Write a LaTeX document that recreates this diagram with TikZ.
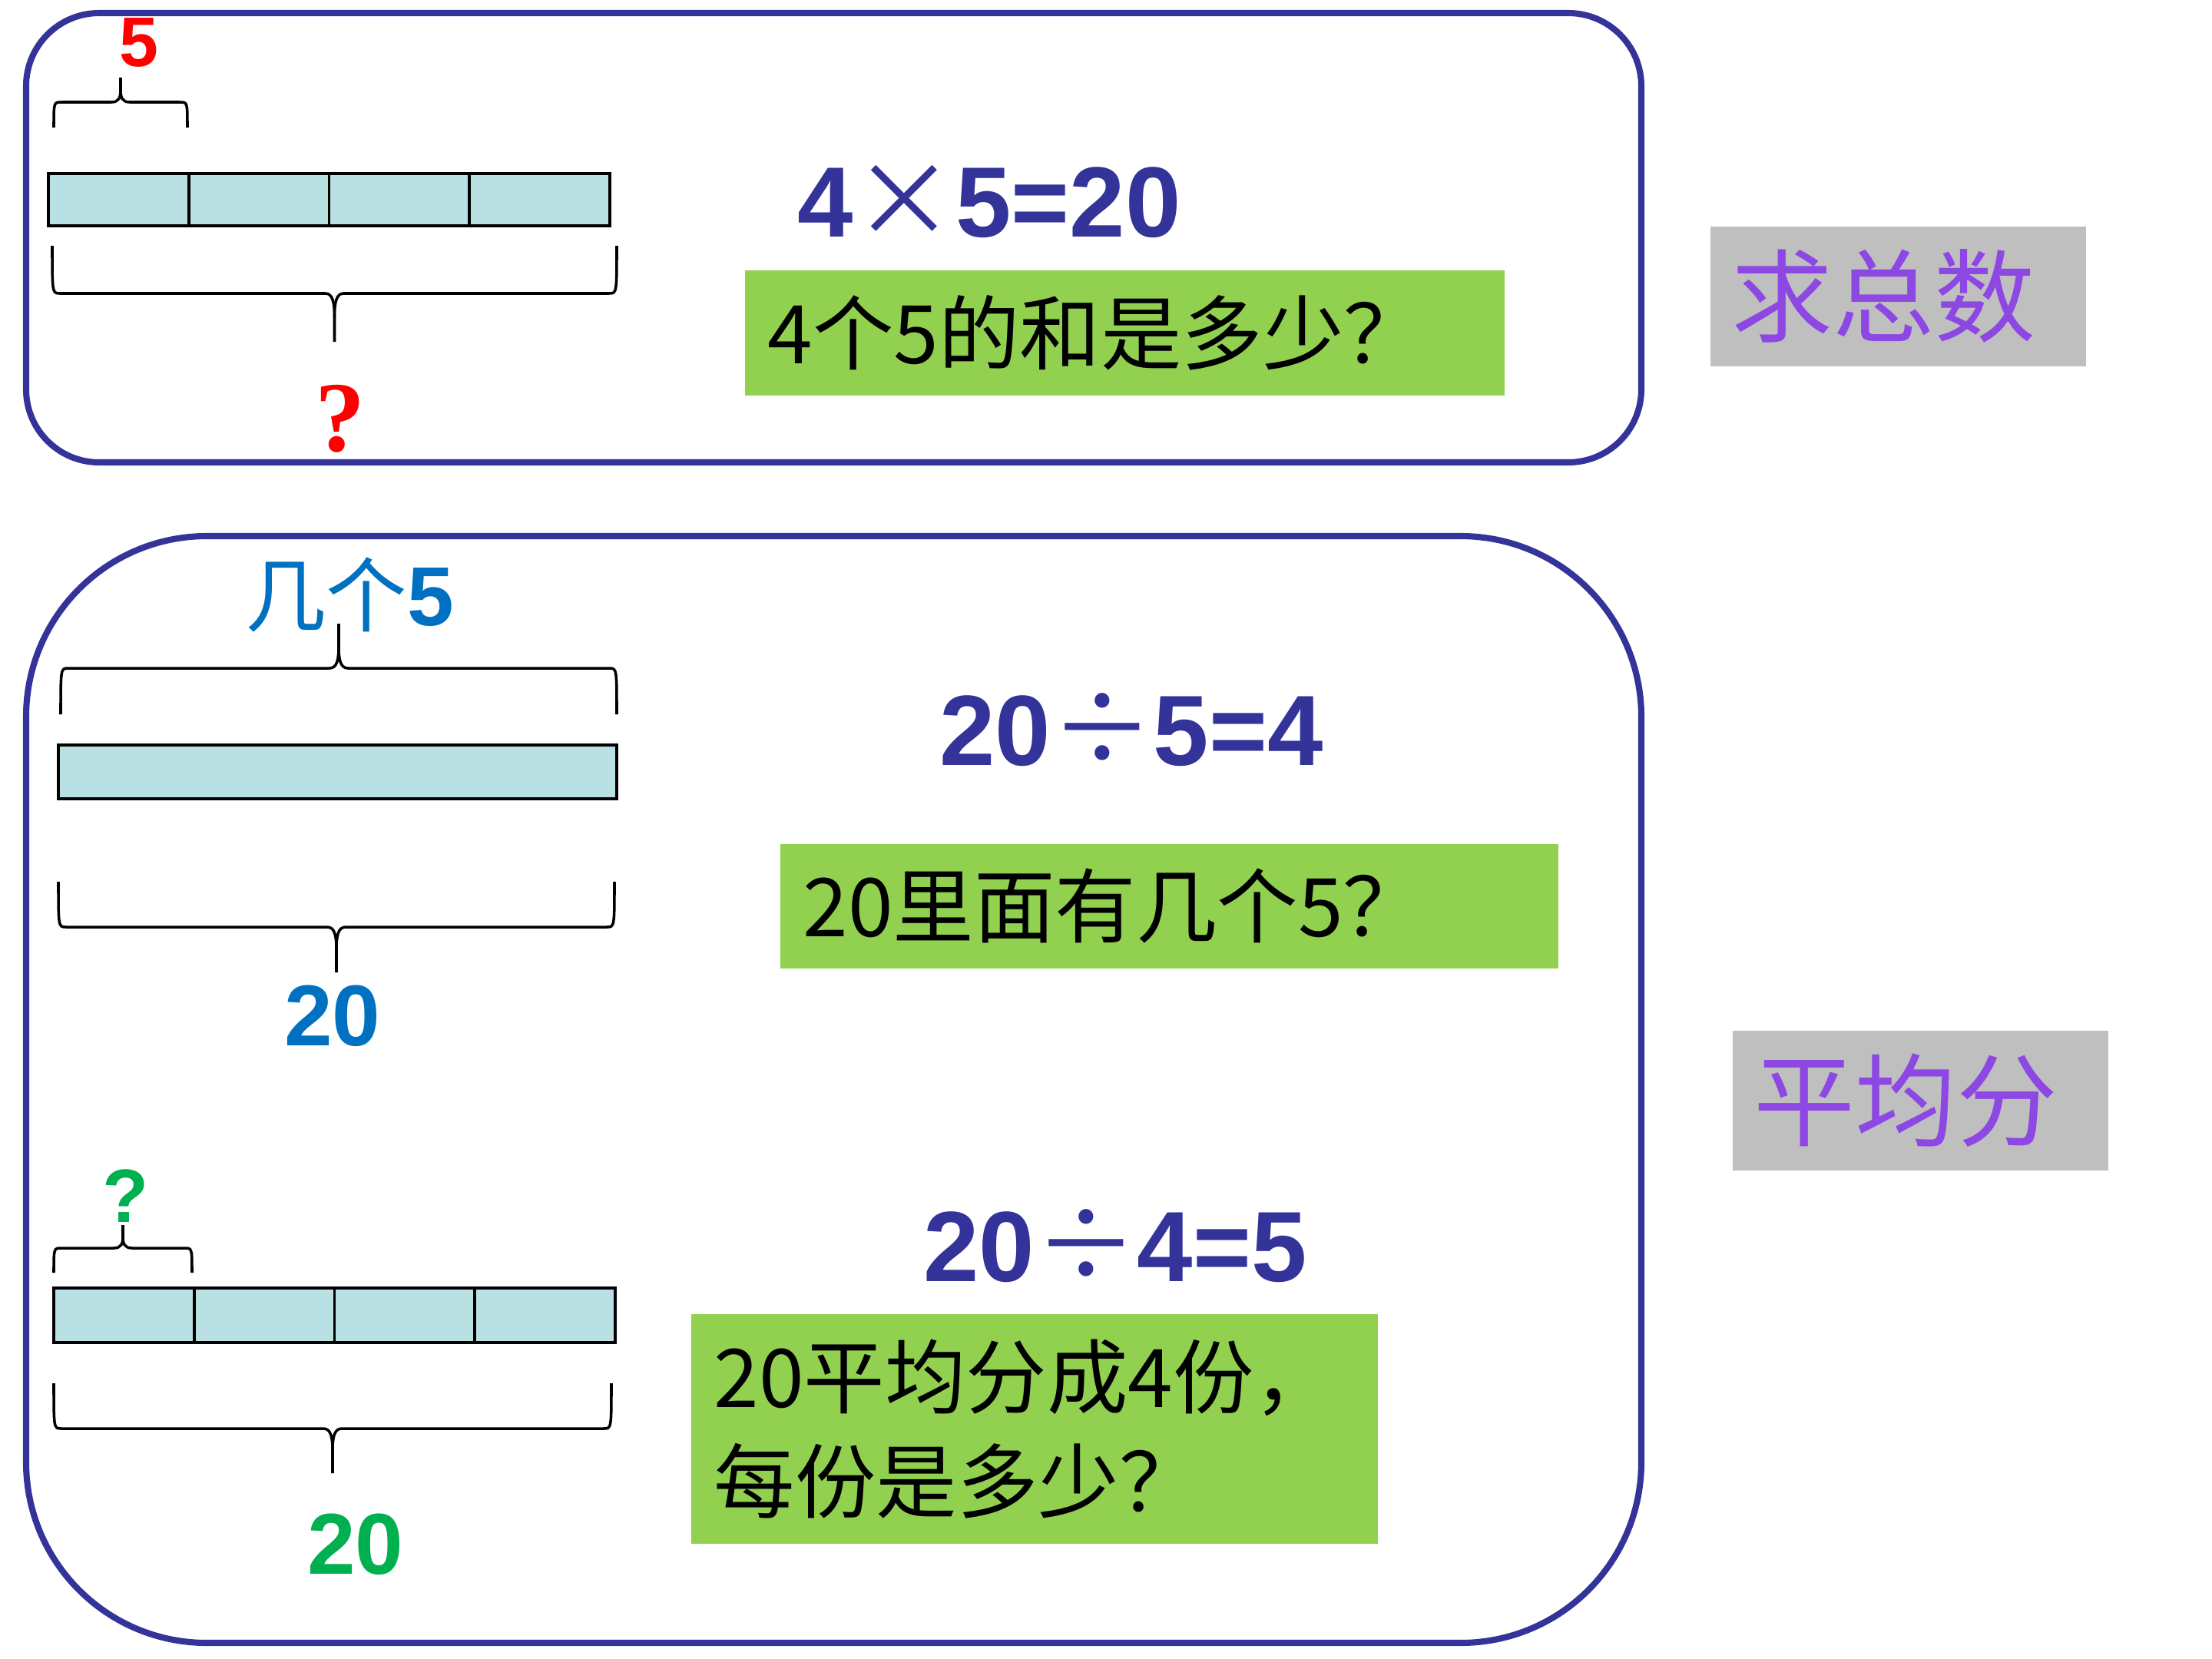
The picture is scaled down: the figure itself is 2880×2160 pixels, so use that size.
\documentclass[tikz,border=0pt]{standalone}
\usepackage{fontspec}
\setmainfont{Liberation Sans}
\newfontfamily\cjk{Noto Sans CJK SC}
\newfontfamily\qfont{Liberation Serif}
\usetikzlibrary{calc}
\definecolor{panelblue}{RGB}{51,51,153}
\definecolor{barfill}{RGB}{185,224,227}
\definecolor{askgreen}{RGB}{146,208,80}
\definecolor{taggray}{RGB}{191,191,191}
\definecolor{tagpurple}{RGB}{141,71,227}
\definecolor{labelred}{RGB}{255,0,0}
\definecolor{labelblue}{RGB}{0,112,192}
\definecolor{labelgreen}{RGB}{0,176,80}
\newcommand{\fsz}[1]{\fontsize{#1}{#1}\selectfont}
% thin sign between the bold digits
\newcommand{\sign}[1]{{\cjk\mdseries\fsz{38}#1}}
% curly brace: x left, x right, y of the ends, y of the long line, y of the tip
\newcommand{\kuohao}[5]{%
  \draw[brace line] (#1,#3) .. controls (#1,#4) .. ({#1+10},#4)
    -- ({(#1+#2)/2-12},#4) .. controls ({(#1+#2)/2-2},#4) and ({(#1+#2)/2},{#4+0.2*(#5-#4)}) .. ({(#1+#2)/2},{#4+0.5*(#5-#4)})
    -- ({(#1+#2)/2},#5);
  \draw[brace line] (#2,#3) .. controls (#2,#4) .. ({#2-10},#4)
    -- ({(#1+#2)/2+12},#4) .. controls ({(#1+#2)/2+2},#4) and ({(#1+#2)/2},{#4+0.2*(#5-#4)}) .. ({(#1+#2)/2},{#4+0.5*(#5-#4)});
}

\begin{document}
\begin{tikzpicture}[x=0.01cm, y=-0.01cm,
    panel/.style={draw=panelblue, line width=2.3pt},
    bar/.style={draw=black, fill=barfill, line width=1.1pt},
    brace line/.style={line width=1pt},
    lbl/.style={inner sep=0pt},
    eqn/.style={inner sep=0pt, anchor=base, text=panelblue, font=\fsz{37}\bfseries},
    askbox/.style={fill=askgreen, anchor=north west, inner xsep=0.3cm, inner ysep=0pt,
      align=left, font=\cjk\fontsize{30}{38.7}\selectfont},
    tag/.style={fill=taggray, text=tagpurple, anchor=north west, inner xsep=0.28cm,
      text width=4.33cm, align=left, minimum height=1.82cm, font=\cjk\fsz{37.5}}]
  \useasboundingbox (0,0) rectangle (2880,2160);

  % the upper panel: 4 x 5
  \draw[panel, rounded corners=0.95cm] (34,17) rectangle (2137,602);
  \draw[bar] (63,226) rectangle (794,294);
  \foreach \i in {1,2,3}
    \draw[line width=1.1pt] ({63+\i*182.75},226) -- +(0,68);
  \kuohao{70}{244}{166}{133}{101}
  \kuohao{68}{803}{320}{382}{445}
  \node[lbl, text=labelred, font=\fsz{26}\bfseries] (five) at (181,55) {5};
  \node[lbl, text=labelred, font=\qfont\fsz{37}\bfseries] (sumq) at (443,545) {?};
  \node[eqn] (mul) at (1288,308) {4\sign{×}5=20};
  \node[askbox, text width=9.29cm, minimum height=1.63cm] (ask1) at (969,351) {4个5的和是多少？};
  \node[tag] (tag1) at (2226,294) {求总数};

  % the lower panel: 20 / 5 and 20 / 4
  \draw[panel, rounded corners=2.35cm] (34,698) rectangle (2137,2139);

  % how many fives
  \kuohao{79}{803}{930}{870}{812}
  \node[lbl, text=labelblue, font=\fsz{31}\bfseries] (howmany) at (455,774) {{\cjk\mdseries\fsz{30}几个}5};
  \draw[bar] (76,970) rectangle (803,1040);
  \kuohao{76}{800}{1148}{1207}{1266}
  \node[lbl, text=labelblue, font=\fsz{32}\bfseries] (total1) at (433,1323) {20};
  \node[eqn] (div1) at (1473,996) {20\sign{÷}5=4};
  \node[askbox, text width=9.53cm, minimum height=1.62cm] (ask2) at (1015,1098) {20里面有几个5？};

  % four equal parts
  \node[lbl, text=labelgreen, font=\fsz{28}\bfseries] (partq) at (164,1557) {?};
  \kuohao{70}{250}{1657}{1625}{1595}
  \draw[bar] (70,1677) rectangle (801,1748);
  \foreach \i in {1,2,3}
    \draw[line width=1.1pt] ({70+\i*182.75},1677) -- +(0,71);
  \kuohao{70}{796}{1801}{1860}{1918}
  \node[lbl, text=labelgreen, font=\fsz{32}\bfseries] (total2) at (463,2011) {20};
  \node[eqn] (div2) at (1452,1668) {20\sign{÷}4=5};
  \node[askbox, text width=8.34cm, minimum height=2.99cm] (ask3) at (899,1710) {20平均分成4份，\\每份是多少？};
  \node[tag] (tag2) at (2255,1341) {平均分};
\end{tikzpicture}
\end{document}
